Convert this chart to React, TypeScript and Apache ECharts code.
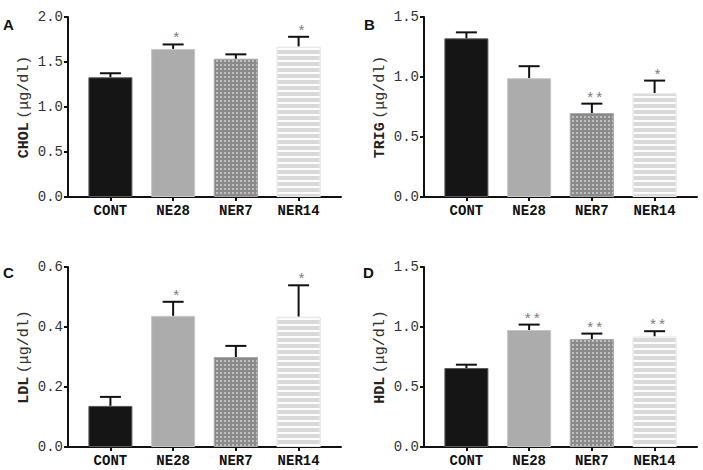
import React, { useEffect, useRef } from "react";
import * as echarts from "echarts";

const categories = ["CONT", "NE28", "NER7", "NER14"];

const cholValues = [1.33, 1.645, 1.535, 1.67];
const cholErrors = [0.045, 0.05, 0.05, 0.11];
const cholStars = ["", "*", "", "*"];

const trigValues = [1.322, 0.99, 0.7, 0.865];
const trigErrors = [0.05, 0.1, 0.078, 0.105];
const trigStars = ["", "", "**", "*"];

const ldlValues = [0.137, 0.437, 0.3, 0.434];
const ldlErrors = [0.03, 0.047, 0.037, 0.105];
const ldlStars = ["", "*", "", "*"];

const hdlValues = [0.658, 0.975, 0.9, 0.92];
const hdlErrors = [0.028, 0.045, 0.045, 0.045];
const hdlStars = ["", "**", "**", "**"];

const panelLetters = ["A", "B", "C", "D"];
const yNames = ["CHOL", "TRIG", "LDL", "HDL"];
const yUnit = "(μg/dl)";
const yMaxes = [2.0, 1.5, 0.6, 1.5];
const yIntervals = [0.5, 0.5, 0.2, 0.5];

const panelValues = [cholValues, trigValues, ldlValues, hdlValues];
const panelErrors = [cholErrors, trigErrors, ldlErrors, hdlErrors];
const panelStars = [cholStars, trigStars, ldlStars, hdlStars];

const MONO = '"Liberation Mono", "Courier New", monospace';

const gridPos = [
  { left: 68, top: 17 },
  { left: 424, top: 17 },
  { left: 68, top: 267 },
  { left: 424, top: 267 },
];
const letterPos = [
  { left: 3, top: 17 },
  { left: 364, top: 17 },
  { left: 3, top: 265 },
  { left: 363, top: 265 },
];

const barStyles: any[] = [
  { color: "#151515", borderColor: "#5a5a5a", borderWidth: 1 },
  { color: "#acacac", borderColor: "#c6c6c6", borderWidth: 1 },
  {
    color: "#8a8a8a",
    borderColor: "#a8a8a8",
    borderWidth: 1,
    decal: {
      symbol: "rect",
      symbolSize: 1,
      dashArrayX: [1.5, 1.5],
      dashArrayY: [1.5, 1.5],
      color: "rgba(255,255,255,0.45)",
      rotation: 0,
    },
  },
  {
    color: "#d9d9d9",
    borderColor: "#e8e8e8",
    borderWidth: 1,
    decal: {
      symbol: "rect",
      symbolSize: 1,
      dashArrayX: [1, 0],
      dashArrayY: [1.5, 3.9],
      color: "rgba(255,255,255,0.95)",
      rotation: 0,
    },
  },
];

function buildOption() {
  const grid: any[] = [];
  const xAxis: any[] = [];
  const yAxis: any[] = [];
  const series: any[] = [];
  const title: any[] = [];
  for (let p = 0; p < 4; p++) {
    grid.push({ left: gridPos[p].left, top: gridPos[p].top, width: 273, height: 180 });
    xAxis.push({
      type: "value",
      gridIndex: p,
      min: -0.676,
      max: 3.676,
      splitLine: { show: false },
      axisLine: { show: true, onZero: false, lineStyle: { color: "#111", width: 2 } },
      axisTick: {
        show: true,
        customValues: [0, 1, 2, 3],
        length: 4,
        lineStyle: { color: "#111", width: 2 },
      },
      axisLabel: {
        customValues: [0, 1, 2, 3],
        formatter: (v: number) => categories[Math.round(v)],
        fontFamily: MONO,
        fontWeight: "bold",
        fontSize: 14,
        color: "#111",
        margin: 7,
      },
    });
    yAxis.push({
      type: "value",
      gridIndex: p,
      min: 0,
      max: yMaxes[p],
      interval: yIntervals[p],
      splitLine: { show: false },
      axisLine: { show: true, onZero: false, lineStyle: { color: "#111", width: 2 } },
      axisTick: { show: true, length: 4, lineStyle: { color: "#111", width: 2 } },
      axisLabel: {
        formatter: (v: number) => v.toFixed(1),
        fontFamily: MONO,
        fontSize: 14,
        color: "#333",
        margin: 5,
      },
      name: `{a|${yNames[p]}} {b|${yUnit}}`,
      nameLocation: "middle",
      nameRotate: 90,
      nameGap: 36,
      nameTextStyle: {
        rich: {
          a: { fontFamily: MONO, fontWeight: "bold", fontSize: 15, color: "#222" },
          b: { fontFamily: MONO, fontSize: 15, color: "#333" },
        },
      },
    });
    const vals = panelValues[p];
    const errs = panelErrors[p];
    const stars = panelStars[p];
    series.push({
      type: "bar",
      xAxisIndex: p,
      yAxisIndex: p,
      barWidth: 44,
      data: vals.map((v, i) => ({ value: [i, v], itemStyle: barStyles[i] })),
    });
    series.push({
      type: "custom",
      xAxisIndex: p,
      yAxisIndex: p,
      encode: { x: 0, y: 1 },
      data: vals.map((v, i) => [i, v, errs[i]]),
      renderItem: (params: any, api: any) => {
        const x = api.value(0);
        const v = api.value(1);
        const e = api.value(2);
        const base = api.coord([x, v]);
        const top = api.coord([x, v + e]);
        const children: any[] = [
          {
            type: "line",
            shape: { x1: top[0], y1: base[1], x2: top[0], y2: top[1] },
            style: { stroke: "#111", lineWidth: 2 },
          },
          {
            type: "line",
            shape: { x1: top[0] - 10.5, y1: top[1], x2: top[0] + 10.5, y2: top[1] },
            style: { stroke: "#111", lineWidth: 2 },
          },
        ];
        const s = stars[params.dataIndex];
        if (s) {
          children.push({
            type: "text",
            x: top[0] + 3,
            y: top[1] + 3,
            style: {
              text: s,
              fill: "#7a7a7a",
              font: `15px ${MONO}`,
              align: "center",
              verticalAlign: "bottom",
            },
          });
        }
        return { type: "group", children };
      },
    });
    title.push({
      text: panelLetters[p],
      left: letterPos[p].left,
      top: letterPos[p].top,
      padding: 0,
      textStyle: {
        fontFamily: '"Liberation Sans", Arial, sans-serif',
        fontWeight: "bold",
        fontSize: 15,
        color: "#111",
      },
    });
  }
  return { animation: false, backgroundColor: "#fff", title, grid, xAxis, yAxis, series };
}

export default function App() {
  const ref = useRef<HTMLDivElement>(null);
  useEffect(() => {
    if (!ref.current) return;
    const chart = echarts.init(ref.current, null, { renderer: "svg" });
    chart.setOption(buildOption() as any);
    return () => chart.dispose();
  }, []);
  return (
    <div
      ref={ref}
      style={{ position: "absolute", left: 0, top: 0, width: 703, height: 470, background: "#fff" }}
    />
  );
}
